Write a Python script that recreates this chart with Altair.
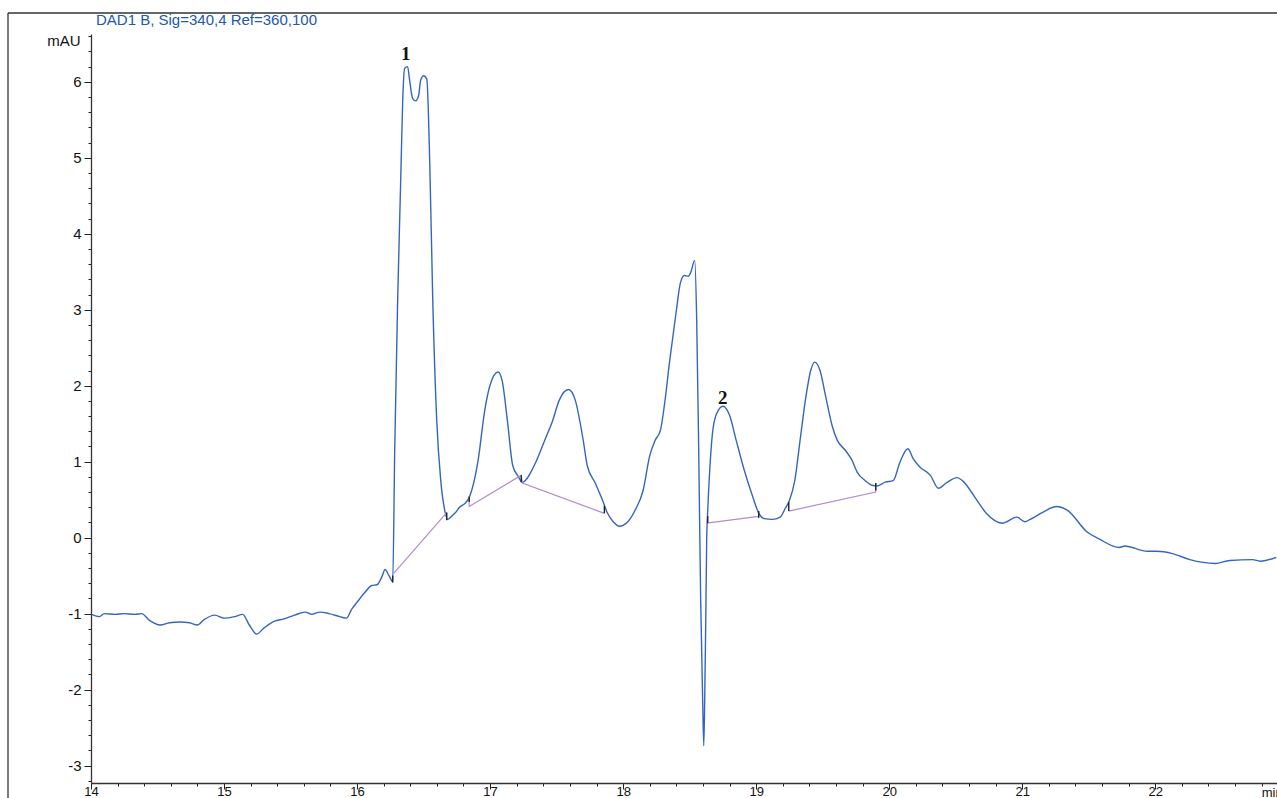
import altair as alt
import pandas as pd

# ---- chromatogram trace (min, mAU) ----
time_min = [
    14.005, 14.065, 14.10, 14.18, 14.25, 14.33, 14.38, 14.44, 14.52, 14.59,
    14.67, 14.74, 14.80, 14.85, 14.93, 15.00, 15.08, 15.14, 15.19, 15.245,
    15.30, 15.38, 15.45, 15.53, 15.61, 15.66, 15.72, 15.79, 15.87, 15.92,
    15.96, 16.00, 16.06, 16.11, 16.15, 16.19, 16.21, 16.24, 16.268, 16.283,
    16.305, 16.328, 16.343, 16.358, 16.380, 16.395, 16.418, 16.441, 16.463, 16.478,
    16.501, 16.524, 16.546, 16.569, 16.599, 16.629, 16.659, 16.681, 16.71, 16.74,
    16.77, 16.81, 16.843, 16.91, 16.96, 17.00, 17.06, 17.09, 17.13, 17.17,
    17.21, 17.242, 17.34, 17.41, 17.47, 17.52, 17.59, 17.64, 17.70, 17.73,
    17.79, 17.85, 17.88, 17.93, 17.97, 18.03, 18.09, 18.15, 18.20, 18.24,
    18.28, 18.31, 18.35, 18.40, 18.43, 18.46, 18.49, 18.508, 18.538, 18.553,
    18.568, 18.583, 18.598, 18.606, 18.613, 18.621, 18.628, 18.636, 18.651, 18.67,
    18.70, 18.75, 18.80, 18.85, 18.91, 18.97, 19.02, 19.06, 19.12, 19.18,
    19.22, 19.25, 19.29, 19.33, 19.37, 19.41, 19.44, 19.48, 19.52, 19.57,
    19.61, 19.67, 19.72, 19.76, 19.82, 19.87, 19.91, 19.97, 20.03, 20.08,
    20.14, 20.18, 20.23, 20.31, 20.37, 20.43, 20.51, 20.55, 20.66, 20.73,
    20.85, 20.96, 21.02, 21.06, 21.15, 21.26, 21.34, 21.49, 21.58, 21.73,
    21.77, 21.94, 22.01, 22.13, 22.26, 22.45, 22.56, 22.73, 22.79, 22.91,
]
signal_mau = [
    -1.01, -1.04, -1.00, -1.01, -1.00, -1.01, -1.00, -1.09, -1.15, -1.12,
    -1.11, -1.12, -1.15, -1.08, -1.02, -1.06, -1.04, -1.01, -1.15, -1.27,
    -1.19, -1.10, -1.07, -1.02, -0.98, -1.01, -0.98, -1.00, -1.04, -1.06,
    -0.94, -0.85, -0.72, -0.63, -0.62, -0.50, -0.42, -0.50, -0.58, 1.15,
    3.12, 4.70, 5.75, 6.18, 6.20, 6.02, 5.78, 5.75, 5.82, 6.02,
    6.08, 6.04, 4.96, 3.12, 1.54, 0.75, 0.36, 0.24, 0.28, 0.33,
    0.40, 0.45, 0.53, 1.02, 1.68, 2.01, 2.18, 2.07, 1.54, 0.95,
    0.81, 0.73, 0.98, 1.28, 1.54, 1.81, 1.95, 1.81, 1.28, 0.95,
    0.72, 0.47, 0.33, 0.20, 0.15, 0.20, 0.36, 0.62, 1.08, 1.28,
    1.41, 1.74, 2.33, 2.99, 3.35, 3.45, 3.44, 3.49, 3.65, 2.86,
    1.15, -0.83, -2.15, -2.74, -2.15, -1.09, -0.04, 0.36, 0.89, 1.35,
    1.62, 1.73, 1.61, 1.28, 0.89, 0.56, 0.32, 0.25, 0.24, 0.27,
    0.39, 0.49, 0.75, 1.28, 1.81, 2.20, 2.31, 2.20, 1.88, 1.48,
    1.28, 1.15, 1.02, 0.86, 0.75, 0.69, 0.68, 0.73, 0.75, 0.99,
    1.17, 1.04, 0.93, 0.82, 0.65, 0.72, 0.79, 0.75, 0.49, 0.32,
    0.19, 0.27, 0.21, 0.24, 0.33, 0.41, 0.36, 0.07, -0.02, -0.13,
    -0.11, -0.18, -0.18, -0.21, -0.29, -0.34, -0.30, -0.29, -0.31, -0.26,
]

# ---- integration baselines ----
baseline_group = ["a", "a", "b", "b", "b", "b", "b", "c", "c", "d", "d", "d"]
baseline_time = [16.275, 16.674, 16.843, 16.843, 17.234, 17.242, 17.859,
                 18.628, 19.019, 19.245, 19.899, 19.899]
baseline_mau = [-0.47, 0.33, 0.54, 0.41, 0.82, 0.72, 0.32,
                0.19, 0.28, 0.35, 0.60, 0.72]

# ---- integration start/stop marks ----
mark_time = [16.268, 16.674, 16.843, 17.234, 17.859, 18.636, 19.019, 19.245, 19.899]
mark_lo = [-0.59, 0.23, 0.47, 0.73, 0.32, 0.19, 0.26, 0.35, 0.62]
mark_hi = [-0.50, 0.33, 0.54, 0.82, 0.42, 0.28, 0.35, 0.47, 0.72]

# ---- peak labels ----
peak_labels = ["1", "2"]
peak_time = [16.365, 18.749]
peak_mau = [6.29, 1.76]

# ---- axis ticks ----
x_ticks = [round(14 + 0.2 * i, 1) for i in range(45)]
y_ticks = [round(-3.2 + 0.2 * i, 1) for i in range(50)]

X_DOMAIN = [14, 22.915]
Y_DOMAIN = [-3.23, 6.63]

trace = pd.DataFrame({"t": time_min, "v": signal_mau})
base = pd.DataFrame({"g": baseline_group, "t": baseline_time, "v": baseline_mau,
                     "i": list(range(len(baseline_time)))})
marks = pd.DataFrame({"t": mark_time, "v": mark_lo, "v2": mark_hi})
peaks = pd.DataFrame({"label": peak_labels, "t": peak_time, "v": peak_mau})

is_major = "abs(datum.value - round(datum.value)) < 0.001"
FONT = "Liberation Sans"

xaxis = alt.Axis(
    values=x_ticks, title=None, grid=False,
    labelExpr=f"{is_major} ? toString(round(datum.value)) : ''",
    labelOverlap=False, labelFont=FONT, labelFontSize=13, labelColor="#111",
    labelPadding=-4, labelFlush=False,
    tickSize={"condition": {"test": is_major, "value": 6}, "value": 3},
    tickColor="#222", tickWidth=1, domainColor="#333", domainWidth=1.3,
)
yaxis = alt.Axis(
    values=y_ticks, grid=False,
    labelExpr=f"{is_major} ? toString(round(datum.value)) : ''",
    labelOverlap=False, labelFont=FONT, labelFontSize=15, labelColor="#111",
    labelPadding=3, labelFlush=False,
    tickSize={"condition": {"test": is_major, "value": 7}, "value": 3},
    tickColor="#222", tickWidth=1, domainColor="#333", domainWidth=1.3,
    title="mAU", titleAngle=0, titleAlign="right", titleBaseline="middle",
    titleX=-11, titleY=6, titleFont=FONT, titleFontSize=15,
    titleFontWeight="normal", titleColor="#111",
)

XS = alt.Scale(domain=X_DOMAIN, nice=False, zero=False)
YS = alt.Scale(domain=Y_DOMAIN, nice=False, zero=False)

def xenc():
    return alt.X("t:Q", scale=XS, axis=xaxis)

def yenc():
    return alt.Y("v:Q", scale=YS, axis=yaxis)

line = alt.Chart(trace).mark_line(
    color="#3566bf", strokeWidth=1.4, interpolate="monotone"
).encode(x=xenc(), y=yenc())

baselines = alt.Chart(base).mark_line(
    color="#b08ccf", strokeWidth=1.2
).encode(x=xenc(), y=yenc(), detail="g:N", order="i:Q")

int_marks = alt.Chart(marks).mark_rule(
    color="#222", strokeWidth=1.4
).encode(x=xenc(), y=yenc(), y2="v2:Q")

labels = alt.Chart(peaks).mark_text(
    font="Liberation Serif", fontWeight="bold", fontSize=19, color="#111",
    baseline="alphabetic", align="center"
).encode(x=xenc(), y=yenc(), text="label:N")

header = alt.Chart(pd.DataFrame({"s": ["DAD1 B, Sig=340,4 Ref=360,100"]})).mark_text(
    font=FONT, fontSize=15, color="#2158b0", align="left", baseline="alphabetic"
).encode(x=alt.value(5), y=alt.value(-9), text="s:N")

unit = alt.Chart(pd.DataFrame({"s": ["min"], "t": [22.8]})).mark_text(
    font=FONT, fontSize=13, color="#111", align="left", baseline="top"
).encode(x=xenc(), y=alt.value(753), text="s:N")

frame_left = alt.Chart(pd.DataFrame({"a": [0]})).mark_rule(
    color="#333", strokeWidth=1.3
).encode(x=alt.value(-83), y=alt.value(-21), y2=alt.value(800))

frame_top = alt.Chart(pd.DataFrame({"a": [0]})).mark_rule(
    color="#333", strokeWidth=1.3
).encode(x=alt.value(-83), x2=alt.value(1300), y=alt.value(-21))

chart = alt.layer(frame_left, frame_top, line, baselines, int_marks, labels, header, unit).properties(
    width=1186, height=749,
    padding={"left": 91, "top": 34, "right": 0, "bottom": 15},
    autosize=alt.AutoSizeParams(type="none"),
    background="white",
).configure_view(stroke=None)

chart.save("out.html", embed_options={"renderer": "svg", "actions": False})
